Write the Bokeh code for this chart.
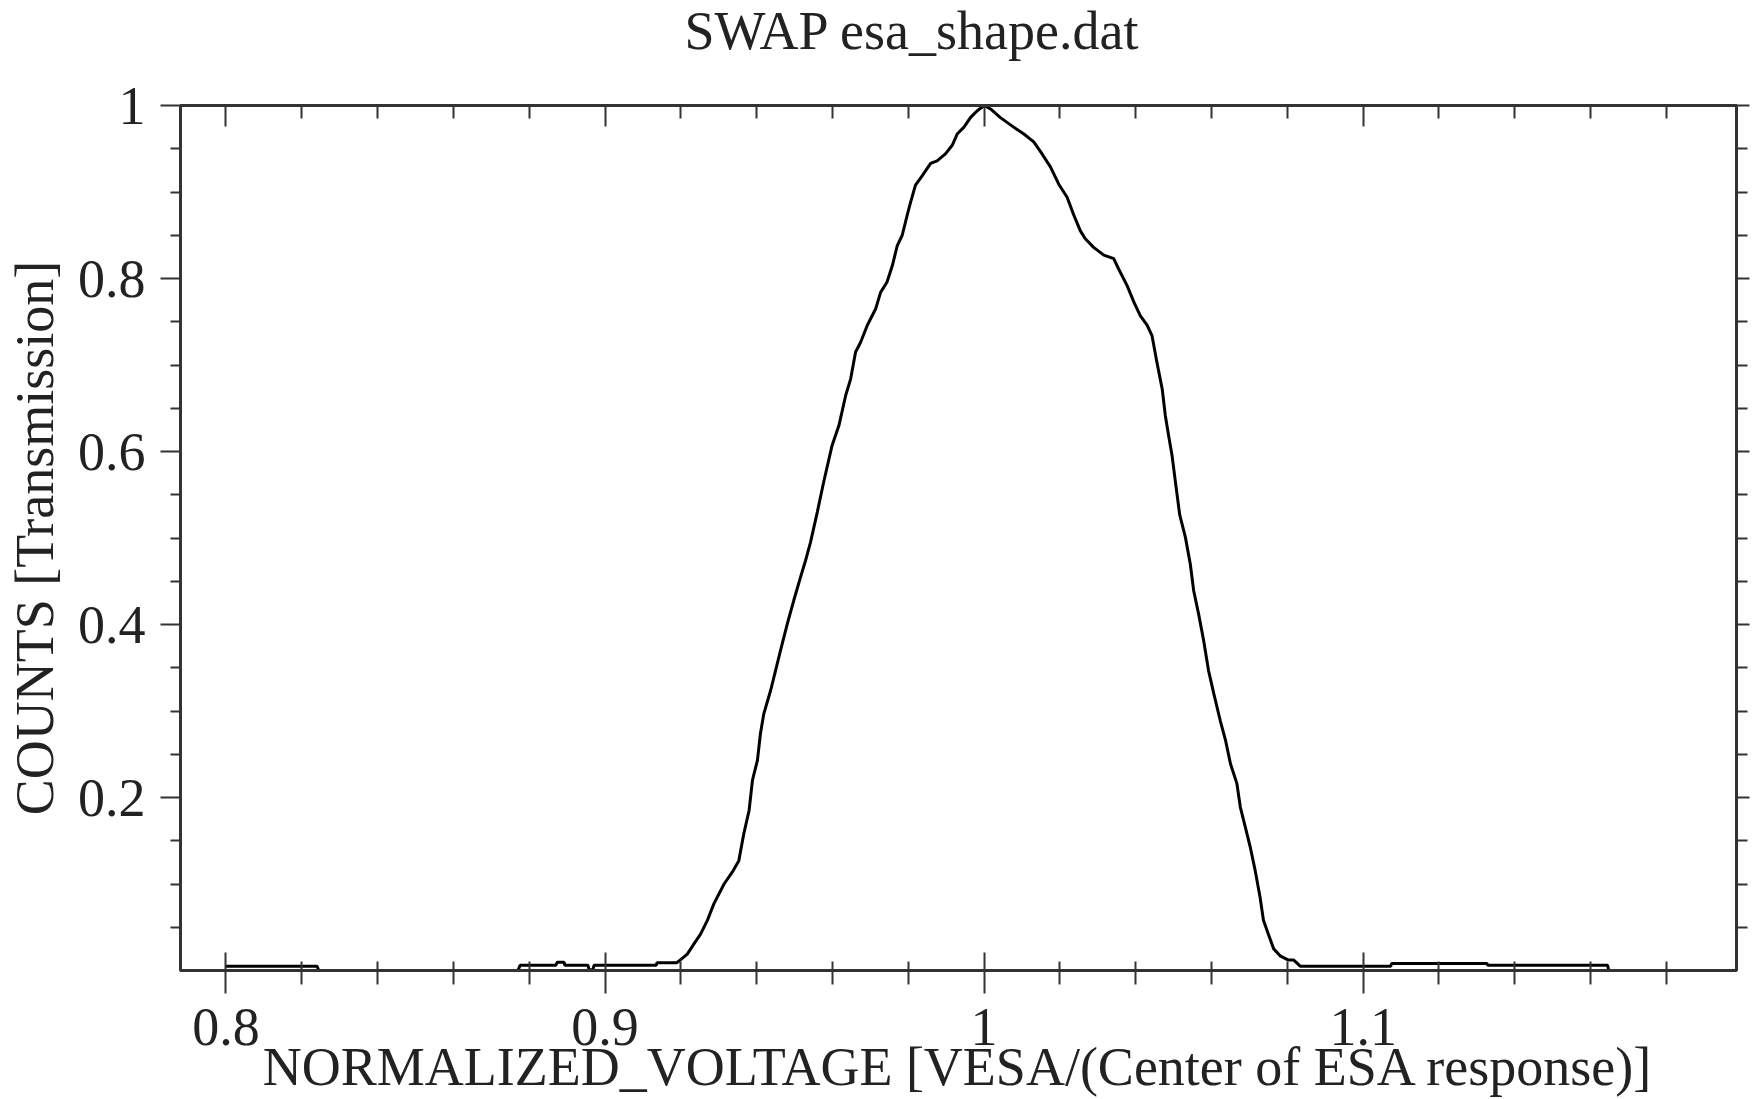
from bokeh.plotting import figure
from bokeh.models import LinearAxis, FixedTicker, Title, Range1d
from bokeh.embed import file_html
from bokeh.resources import INLINE

# ---- data (normalized voltage vs. transmission) ----
voltage = [
    0.8000, 0.8120, 0.8240, 0.8245, 0.8500, 0.8770, 0.8776, 0.8870, 0.8874, 0.8892,
    0.8894, 0.8955, 0.8958, 0.8968, 0.8971, 0.9135, 0.9137, 0.9189, 0.9198,
    0.9217, 0.9235, 0.9252, 0.9270, 0.9287, 0.9314, 0.9336, 0.9353, 0.9366, 0.9380,
    0.9389, 0.9402, 0.9410, 0.9419, 0.9437, 0.9450, 0.9463, 0.9481, 0.9498, 0.9516,
    0.9529, 0.9542, 0.9560, 0.9577, 0.9599, 0.9617, 0.9635, 0.9648, 0.9661, 0.9674,
    0.9692, 0.9714, 0.9727, 0.9744, 0.9758, 0.9771, 0.9784, 0.9797, 0.9806, 0.9819,
    0.9837, 0.9859, 0.9876, 0.9898, 0.9916, 0.9929, 0.9947, 0.9964, 0.9982, 1.0000,
    1.0017, 1.0043, 1.0078, 1.0105, 1.0131, 1.0153, 1.0175, 1.0197, 1.0219, 1.0237,
    1.0254, 1.0267, 1.0289, 1.0316, 1.0342, 1.0355, 1.0377, 1.0395, 1.0412, 1.0430,
    1.0443, 1.0456, 1.0470, 1.0478, 1.0487, 1.0496, 1.0505, 1.0516, 1.0531, 1.0544,
    1.0553, 1.0566, 1.0579, 1.0592, 1.0606, 1.0623, 1.0637, 1.0650, 1.0667, 1.0676,
    1.0689, 1.0702, 1.0715, 1.0728, 1.0737, 1.0750, 1.0764, 1.0781, 1.0803, 1.0817,
    1.0834, 1.0985, 1.1073, 1.1075, 1.1327, 1.1329, 1.1645, 1.1648,
]
counts = [
    0.005, 0.005, 0.005, 0.000, 0.000, 0.000, 0.006, 0.006, 0.0095, 0.0095,
    0.006, 0.006, 0.001, 0.001, 0.006, 0.006, 0.009, 0.009, 0.012,
    0.019, 0.031, 0.042, 0.058, 0.077, 0.100, 0.114, 0.127, 0.158, 0.185,
    0.220, 0.243, 0.274, 0.297, 0.324, 0.347, 0.370, 0.401, 0.428, 0.455,
    0.474, 0.495, 0.530, 0.565, 0.607, 0.630, 0.665, 0.684, 0.715, 0.726,
    0.746, 0.765, 0.784, 0.796, 0.815, 0.838, 0.850, 0.873, 0.888, 0.908,
    0.919, 0.933, 0.936, 0.944, 0.954, 0.967, 0.975, 0.986, 0.994, 1.000,
    0.996, 0.986, 0.975, 0.967, 0.958, 0.944, 0.929, 0.909, 0.894, 0.873,
    0.855, 0.846, 0.836, 0.827, 0.823, 0.811, 0.792, 0.773, 0.757, 0.746,
    0.734, 0.703, 0.672, 0.642, 0.618, 0.595, 0.564, 0.527, 0.501, 0.470,
    0.439, 0.412, 0.382, 0.347, 0.320, 0.289, 0.266, 0.239, 0.216, 0.189,
    0.166, 0.143, 0.116, 0.085, 0.058, 0.042, 0.025, 0.017, 0.012, 0.012,
    0.005, 0.005, 0.005, 0.008, 0.008, 0.006, 0.006, 0.000,
]

x_major = [0.8, 0.9, 1.0, 1.1]
x_major_labels = ["0.8", "0.9", "1", "1.1"]
x_minor = [0.82, 0.84, 0.86, 0.88, 0.92, 0.94, 0.96, 0.98,
           1.02, 1.04, 1.06, 1.08, 1.12, 1.14, 1.16, 1.18]
y_major = [0.2, 0.4, 0.6, 0.8, 1.0]
y_major_labels = ["0.2", "0.4", "0.6", "0.8", "1"]
y_minor = [0.05, 0.1, 0.15, 0.25, 0.3, 0.35, 0.45, 0.5, 0.55,
           0.65, 0.7, 0.75, 0.85, 0.9, 0.95]

title_text = "SWAP esa_shape.dat"
x_label = "NORMALIZED_VOLTAGE [VESA/(Center of ESA response)]"
y_label = "COUNTS [Transmission]"

FONT = "Liberation Serif"
TEXT_COLOR = "#222222"
FRAME_COLOR = "#333333"
FS = "54px"

p = figure(
    width=1752, height=1099,
    x_range=Range1d(0.788, 1.1985), y_range=Range1d(0.0, 1.0),
    output_backend="svg", toolbar_location=None,
    x_axis_location=None, y_axis_location=None,
    min_border_left=180, min_border_right=16, min_border_top=105, min_border_bottom=129,
    background_fill_color="white", border_fill_color=None,
)
p.xgrid.visible = False
p.ygrid.visible = False
p.outline_line_color = FRAME_COLOR
p.outline_line_width = 3

p.title = Title(text=title_text, align="left", offset=504,
                text_font=FONT, text_font_size=FS, text_font_style="normal",
                text_color=TEXT_COLOR, vertical_align="top", standoff=0)

xt = FixedTicker(ticks=x_major, minor_ticks=x_minor)
yt = FixedTicker(ticks=y_major, minor_ticks=y_minor)


def style(ax):
    ax.axis_line_color = FRAME_COLOR
    ax.axis_line_width = 3
    ax.major_tick_line_color = FRAME_COLOR
    ax.minor_tick_line_color = FRAME_COLOR
    ax.major_tick_line_width = 2
    ax.minor_tick_line_width = 2
    ax.major_label_text_font = FONT
    ax.major_label_text_font_size = FS
    ax.major_label_text_color = TEXT_COLOR
    ax.axis_label_text_font = FONT
    ax.axis_label_text_font_size = FS
    ax.axis_label_text_font_style = "normal"
    ax.axis_label_text_color = TEXT_COLOR
    props = ax.properties()
    if "background_fill_color" in props:
        ax.background_fill_color = None


def tick_only(ax):
    style(ax)
    ax.major_label_text_color = None
    ax.major_label_standoff = 0


# bottom axis: outward ticks + labels
bottom = LinearAxis(ticker=xt, axis_label=x_label,
                    major_label_overrides=dict(zip(x_major, x_major_labels)))
style(bottom)
bottom.major_tick_in = 0
bottom.major_tick_out = 23
bottom.minor_tick_in = 0
bottom.minor_tick_out = 14
bottom.major_label_standoff = 15
bottom.axis_label_standoff = -11
p.add_layout(bottom, "below")

# inward ticks along the bottom edge (axis pinned at y = 0)
bottom_in = LinearAxis(ticker=xt, fixed_location=0.0)
tick_only(bottom_in)
bottom_in.major_tick_in = 18
bottom_in.major_tick_out = 0
bottom_in.minor_tick_in = 9
bottom_in.minor_tick_out = 0
p.add_layout(bottom_in, "below")

# top edge: inward ticks only
top = LinearAxis(ticker=xt)
tick_only(top)
top.major_tick_in = 21
top.major_tick_out = 0
top.minor_tick_in = 13
top.minor_tick_out = 0
p.add_layout(top, "above")

# invisible spacer between the top edge and the title
spacer = LinearAxis(ticker=xt)
tick_only(spacer)
spacer.axis_line_color = None
spacer.major_tick_line_color = None
spacer.minor_tick_line_color = None
spacer.major_tick_in = 0
spacer.minor_tick_in = 0
spacer.major_tick_out = 43
spacer.minor_tick_out = 43
p.add_layout(spacer, "above")

left = LinearAxis(ticker=yt, axis_label=y_label,
                  major_label_overrides=dict(zip(y_major, y_major_labels)))
style(left)
left.major_tick_in = 0
left.major_tick_out = 20
left.minor_tick_in = 0
left.minor_tick_out = 10
left.major_label_standoff = 15
left.axis_label_standoff = 10
p.add_layout(left, "left")

right = LinearAxis(ticker=yt)
tick_only(right)
right.major_tick_in = 0
right.major_tick_out = 13
right.minor_tick_in = 0
right.minor_tick_out = 11
p.add_layout(right, "right")

p.line(voltage, counts, line_color="black", line_width=3)

open("out.html", "w").write(file_html(p, INLINE))
